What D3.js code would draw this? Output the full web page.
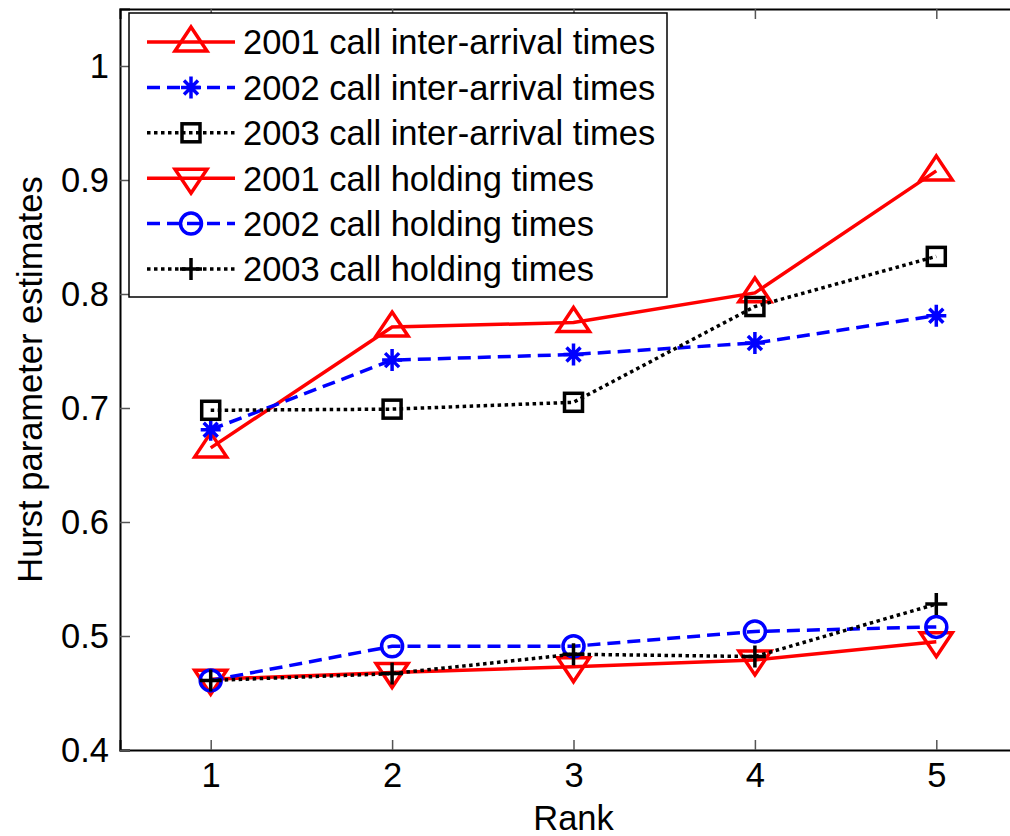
<!DOCTYPE html>
<html>
<head>
<meta charset="utf-8">
<script src="https://cdn.jsdelivr.net/npm/d3@7"></script>
<style>
  html, body { margin: 0; padding: 0; background: #fff; overflow: hidden; }
  svg { display: block; font-family: Arial, "Liberation Sans", sans-serif; }
</style>
</head>
<body>
<svg id="chart" width="1010" height="836"></svg>
<script>
// Ranks on the x axis
const ranks = [1, 2, 3, 4, 5];

// Hurst parameter estimates per series
const iat2001 = [0.665, 0.771, 0.775, 0.801, 0.908];
const iat2002 = [0.681, 0.742, 0.747, 0.757, 0.781];
const iat2003 = [0.698, 0.699, 0.705, 0.789, 0.833];
const hold2001 = [0.462, 0.468, 0.473, 0.479, 0.495];
const hold2002 = [0.461, 0.491, 0.491, 0.504, 0.508];
const hold2003 = [0.461, 0.467, 0.484, 0.482, 0.528];

const seriesNames = [
  "2001 call inter-arrival times",
  "2002 call inter-arrival times",
  "2003 call inter-arrival times",
  "2001 call holding times",
  "2002 call holding times",
  "2003 call holding times"
];

// Axis tick labels
const xTicks = [1, 2, 3, 4, 5];
const yTicks = [0.4, 0.5, 0.6, 0.7, 0.8, 0.9, 1.0];

const series = [
  { name: seriesNames[0], values: iat2001, color: "#ff0000", dash: null, marker: "triUp" },
  { name: seriesNames[1], values: iat2002, color: "#0000ff", dash: "13,7", marker: "star" },
  { name: seriesNames[2], values: iat2003, color: "#000000", dash: "3.5,3.5", marker: "square" },
  { name: seriesNames[3], values: hold2001, color: "#ff0000", dash: null, marker: "triDown" },
  { name: seriesNames[4], values: hold2002, color: "#0000ff", dash: "13,7", marker: "circle" },
  { name: seriesNames[5], values: hold2003, color: "#000000", dash: "3.5,3.5", marker: "plus" }
];

const svg = d3.select("#chart");
const plot = { left: 120, top: 9, bottom: 750, right: 1027 };

const x = d3.scaleLinear().domain([0.5, 5.5]).range([plot.left, plot.right]);
const y = d3.scaleLinear().domain([0.4, 1.05]).range([plot.bottom, plot.top]);

const FONT = 34.5;
const LW = 3.5;

// Axes box
const axisBottom = d3.axisBottom(x).tickValues(xTicks).tickSize(-10).tickPadding(13).tickFormat(d3.format("d"));
const axisLeft = d3.axisLeft(y).tickValues(yTicks).tickSize(-10).tickPadding(11).tickFormat(d => d3.format("~g")(d));
const axisTop = d3.axisTop(x).tickValues(xTicks).tickSize(-10).tickFormat("");

function styleAxis(g) {
  g.select(".domain").attr("stroke", "#000").attr("stroke-width", 2);
  g.selectAll(".tick line").attr("stroke", "#555").attr("stroke-width", 1.5);
  g.selectAll(".tick text").attr("fill", "#000").style("font-size", FONT + "px").style("font-family", "Arial, 'Liberation Sans', sans-serif");
}

svg.append("g").attr("transform", `translate(0,${plot.bottom})`).call(axisBottom).call(styleAxis);
svg.append("g").attr("transform", `translate(${plot.left},0)`).call(axisLeft).call(styleAxis);
svg.append("g").attr("transform", `translate(0,${plot.top})`).call(axisTop).call(styleAxis);

// Axis titles
svg.append("text")
  .attr("x", x(3.0)).attr("y", 830)
  .attr("text-anchor", "middle")
  .style("font-size", FONT + "px")
  .text("Rank");

svg.append("text")
  .attr("transform", `translate(42,${(plot.top + plot.bottom) / 2}) rotate(-90)`)
  .attr("text-anchor", "middle")
  .style("font-size", FONT + "px")
  .text("Hurst parameter estimates");

// Marker drawing
function drawMarker(g, type, color) {
  const common = sel => sel.attr("fill", "none").attr("stroke", color).attr("stroke-width", LW);
  switch (type) {
    case "triUp":
      g.append("path").attr("d", "M0,-15 L16,9 L-16,9 Z").call(common).attr("stroke-linejoin", "miter");
      break;
    case "triDown":
      g.append("path").attr("d", "M0,15 L16,-9 L-16,-9 Z").call(common).attr("stroke-linejoin", "miter");
      break;
    case "square":
      g.append("rect").attr("x", -9).attr("y", -9).attr("width", 18).attr("height", 18).call(common);
      break;
    case "circle":
      g.append("circle").attr("r", 10.5).call(common);
      break;
    case "plus":
      g.append("path").attr("d", "M-11,0 L11,0 M0,-11 L0,11").call(common);
      break;
    case "star":
      g.append("path").attr("d", "M-10,0 L10,0 M0,-11 L0,11 M-7,-7 L7,7 M-7,7 L7,-7").call(common);
      break;
  }
}

const line = d3.line().x((d, i) => x(ranks[i])).y(d => y(d));

const dataG = svg.append("g");
series.forEach(s => {
  const g = dataG.append("g");
  g.append("path")
    .datum(s.values)
    .attr("d", line)
    .attr("fill", "none")
    .attr("stroke", s.color)
    .attr("stroke-width", LW)
    .attr("stroke-dasharray", s.dash);
  s.values.forEach((v, i) => {
    const m = g.append("g").attr("transform", `translate(${x(ranks[i])},${y(v)})`);
    drawMarker(m, s.marker, s.color);
  });
});

// Legend
const legend = svg.append("g");
const lg = { x: 129, y: 13, w: 538, h: 284, rowH: 45.4, first: 42 };
legend.append("rect")
  .attr("x", lg.x).attr("y", lg.y).attr("width", lg.w).attr("height", lg.h)
  .attr("fill", "#fff").attr("stroke", "#000").attr("stroke-width", 1.5);

series.forEach((s, i) => {
  const cy = lg.first + i * lg.rowH;
  const row = legend.append("g").attr("transform", `translate(0,${cy})`);
  row.append("line")
    .attr("x1", 147).attr("x2", 235).attr("y1", 0).attr("y2", 0)
    .attr("stroke", s.color).attr("stroke-width", LW)
    .attr("stroke-dasharray", s.dash);
  const m = row.append("g").attr("transform", "translate(191,0)");
  drawMarker(m, s.marker, s.color);
  row.append("text")
    .attr("x", 243).attr("y", 0).attr("dy", "0.36em")
    .style("font-size", FONT + "px")
    .text(s.name);
});
</script>
</body>
</html>
